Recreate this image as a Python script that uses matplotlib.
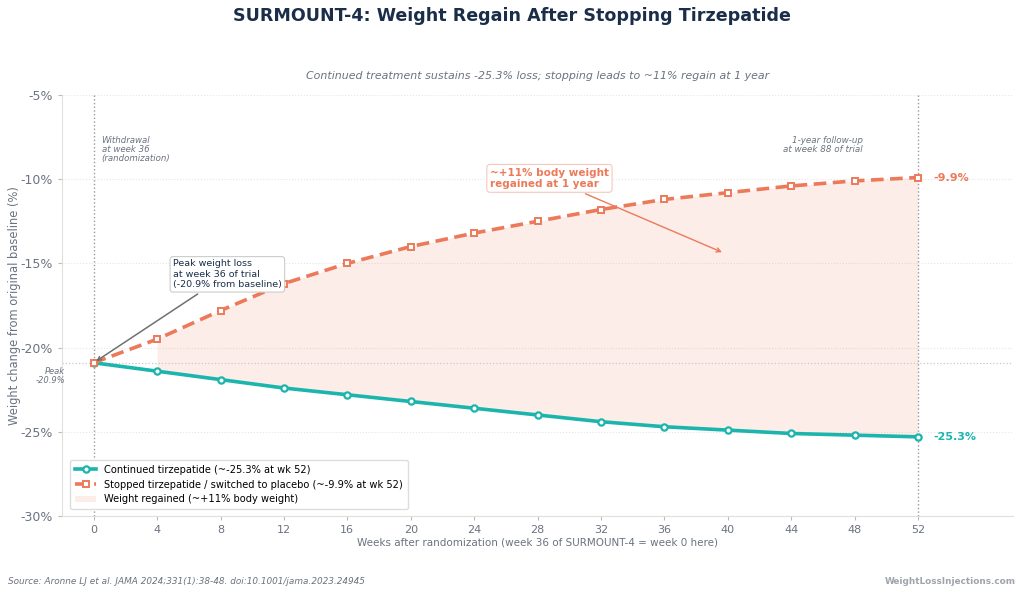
import matplotlib
matplotlib.use("Agg")
import matplotlib.pyplot as plt
import numpy as np

weeks = [0, 4, 8, 12, 16, 20, 24, 28, 32, 36, 40, 44, 48, 52]
continued = [-20.9, -21.4, -21.9, -22.4, -22.8, -23.2, -23.6, -24.0, -24.4, -24.7, -24.9, -25.1, -25.2, -25.3]
stopped = [-20.9, -19.5, -17.8, -16.2, -15.0, -14.0, -13.2, -12.5, -11.8, -11.2, -10.8, -10.4, -10.1, -9.9]
yticks = [-30, -25, -20, -15, -10, -5]
xticks = list(range(0, 53, 4))

TEAL = "#1cb5ad"
CORAL = "#ec7a5a"
NAVY = "#1a2e4a"
GRAY = "#6b7280"

fig = plt.figure(figsize=(10.24, 5.94), dpi=100)
ax = fig.add_axes([62/1024, 1-516/594, (1013-62)/1024, (516-95)/594])

ax.fill_between(weeks[1:], continued[1:], stopped[1:], color=CORAL, alpha=0.13, linewidth=0,
                label="Weight regained (~+11% body weight)")
ax.plot(weeks, continued, color=TEAL, lw=2.6, marker='o', ms=4.5, mfc='white', mec=TEAL, mew=1.6,
        label="Continued tirzepatide (~-25.3% at wk 52)", zorder=4)
ax.plot(weeks, stopped, color=CORAL, lw=2.6, ls=(0, (3.5, 1.8)), marker='s', ms=4.5, mfc='white', mec=CORAL, mew=1.4,
        label="Stopped tirzepatide / switched to placebo (~-9.9% at wk 52)", zorder=4)

ax.set_xlim(-2, 58)
ax.set_ylim(-30, -5)
ax.set_xticks(xticks)
ax.set_yticks(yticks)
ax.set_yticklabels([f"{v}%" for v in yticks])
ax.tick_params(axis='y', colors=GRAY, labelsize=9, length=3, color="#bbbbbb")
ax.tick_params(axis='x', colors=GRAY, labelsize=8, length=3, color="#bbbbbb")
ax.grid(axis='y', ls=':', color='#e5e5e5', lw=0.8)
ax.set_axisbelow(True)
for s in ['top', 'right']:
    ax.spines[s].set_visible(False)
for s in ['left', 'bottom']:
    ax.spines[s].set_color('#e0e0e0')

ax.axhline(-20.9, ls=':', color='#c8c8c8', lw=0.9, zorder=1)
ax.axvline(0, ls=':', color='#999999', lw=1.0, zorder=1)
ax.axvline(52, ls=':', color='#999999', lw=1.0, zorder=1)

ax.set_xlabel("Weeks after randomization (week 36 of SURMOUNT-4 = week 0 here)", color=GRAY, fontsize=7.5, labelpad=2)
ax.set_ylabel("Weight change from original baseline (%)", color=GRAY, fontsize=8.3, labelpad=0)

ax.text(0.5, -7.45, "Withdrawal\nat week 36\n(randomization)", fontsize=6.2, style='italic', color=GRAY,
        ha='left', va='top', linespacing=1.0)
ax.text(48.5, -7.45, "1-year follow-up\nat week 88 of trial", fontsize=6.3, style='italic', color=GRAY,
        ha='right', va='top', linespacing=1.0)
ax.text(-1.8, -21.15, "Peak\n-20.9%", fontsize=6, style='italic', color=GRAY, ha='right', va='top',
        linespacing=1.0)

ax.annotate("Peak weight loss\nat week 36 of trial\n(-20.9% from baseline)", xy=(0, -20.9), xytext=(5.0, -15.65),
            fontsize=6.8, color=NAVY, ha='left', va='center',
            bbox=dict(boxstyle='round,pad=0.3', fc='white', ec='#cccccc', lw=0.8),
            arrowprops=dict(arrowstyle='->', color='#707070', lw=1.1), zorder=6)
ax.annotate("~+11% body weight\nregained at 1 year", xy=(39.8, -14.4), xytext=(25.0, -9.95),
            fontsize=7.5, color=CORAL, fontweight='bold', ha='left', va='center',
            bbox=dict(boxstyle='round,pad=0.3', fc='white', ec='#f6c8bb', lw=0.8),
            arrowprops=dict(arrowstyle='->', color=CORAL, lw=1.0), zorder=6)

ax.text(53.0, stopped[-1], f"{stopped[-1]}%", color=CORAL, fontweight='bold', fontsize=8, va='center')
ax.text(53.0, continued[-1], f"{continued[-1]}%", color=TEAL, fontweight='bold', fontsize=8, va='center')

h, l = ax.get_legend_handles_labels()
order = [1, 2, 0]
leg = ax.legend([h[i] for i in order], [l[i] for i in order], loc='lower left', fontsize=7.1,
                frameon=True, framealpha=1, edgecolor='#dddddd', borderpad=0.5, handlelength=2.2,
                bbox_to_anchor=(0.003, 0.004))

fig.text(0.5, 1-16/594, "SURMOUNT-4: Weight Regain After Stopping Tirzepatide", ha='center', va='center',
         fontsize=12.6, fontweight='bold', color=NAVY)
ax.text(0.5, 1 + 19/421, "Continued treatment sustains -25.3% loss; stopping leads to ~11% regain at 1 year",
        transform=ax.transAxes, ha='center', va='center', fontsize=7.9, style='italic', color=GRAY)
fig.text(8/1024, 1-581/594, "Source: Aronne LJ et al. JAMA 2024;331(1):38-48. doi:10.1001/jama.2023.24945",
         fontsize=6.4, style='italic', color=GRAY, ha='left', va='center')
fig.text(1016/1024, 1-581/594, "WeightLossInjections.com", fontsize=6.4, fontweight='bold', color='#a0a4ad',
         ha='right', va='center')

fig.savefig("out.png", dpi=100)
